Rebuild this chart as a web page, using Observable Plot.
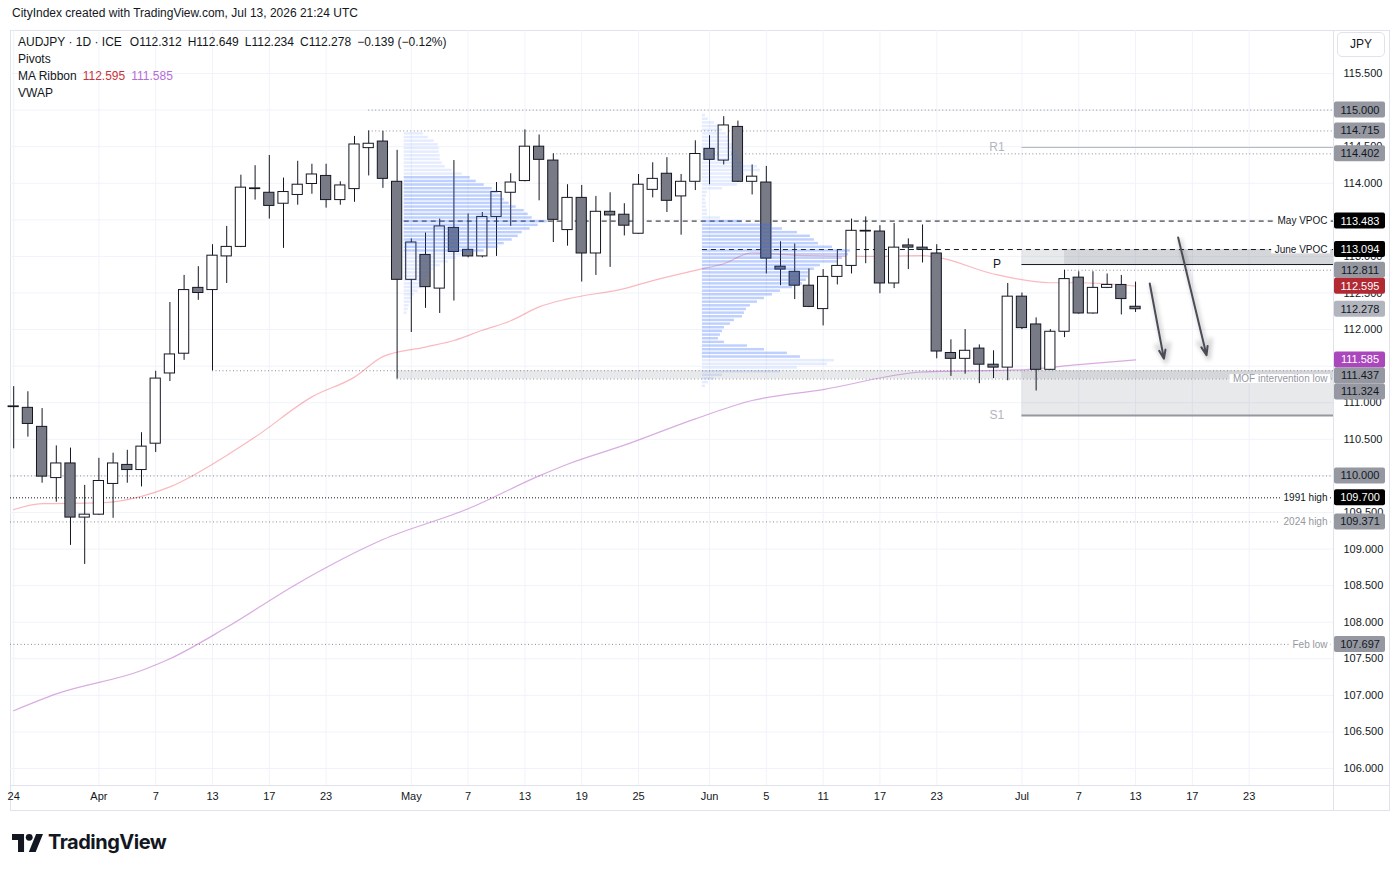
<!DOCTYPE html>
<html lang="en">
<head>
<meta charset="utf-8">
<title>AUDJPY · 1D</title>
<script src="https://cdn.jsdelivr.net/npm/d3@7"></script>
<script src="https://cdn.jsdelivr.net/npm/@observablehq/plot@0.6"></script>
<style>
  html, body { margin: 0; padding: 0; background: #fff; }
  body { width: 1399px; height: 872px; position: relative; overflow: hidden;
         font-family: "Liberation Sans", Arial, sans-serif; color: #131722; }
  #stamp { position: absolute; left: 12px; top: 6px; font-size: 12px; }
  #frame { position: absolute; left: 10px; top: 30px; width: 1380px; height: 781px;
           box-sizing: border-box; border: 1px solid #e0e3eb; }
  #chart { position: absolute; left: 0; top: 30px; }
  #vsep { position: absolute; left: 1333px; top: 30px; width: 1px; height: 781px; background: #e0e3eb; }
  #hsep { position: absolute; left: 10px; top: 785px; width: 1380px; height: 1px; background: #e0e3eb; }
  #legend { position: absolute; left: 18px; top: 34px; font-size: 12px; line-height: 17px; }
  #legend .v { margin-left: 6px; }
  #jpy { position: absolute; left: 1337px; top: 32px; width: 48px; height: 25px; box-sizing: border-box;
         border: 1px solid #e0e3eb; border-radius: 5px; font-size: 12px; text-align: center;
         line-height: 23px; background: #fff; }
  #brand { position: absolute; left: 12px; top: 830px; display: flex; align-items: center; gap: 5px;
           font-family: Inter, sans-serif; font-weight: 700; font-size: 20px; letter-spacing: -0.5px; }
</style>
</head>
<body>
<div id="stamp">CityIndex created with TradingView.com, Jul 13, 2026 21:24 UTC</div>
<div id="frame"></div>
<div id="chart"></div>
<div id="vsep"></div>
<div id="hsep"></div>
<div id="legend"></div>
<div id="jpy">JPY</div>
<div id="brand">
  <svg width="31" height="19" viewBox="0 0 36 22">
    <path d="M14 22H7V8H0V1h14z" fill="#131722"/>
    <circle cx="20" cy="5" r="4" fill="#131722"/>
    <path d="M28 1h8l-8.5 21h-8z" fill="#131722"/>
  </svg>
  <span>TradingView</span>
</div>
<script>
// Trading sessions shown on the time axis (2026, month-day)
const sessions = [
  "03-24","03-25","03-26","03-27","03-30","03-31",
  "04-01","04-02","04-03","04-06","04-07","04-08","04-09","04-10","04-13","04-14","04-15","04-16","04-17",
  "04-20","04-21","04-22","04-23","04-24","04-27","04-28","04-29","04-30",
  "05-01","05-04","05-05","05-06","05-07","05-08","05-11","05-12","05-13","05-14","05-15","05-18","05-19",
  "05-20","05-21","05-22","05-25","05-26","05-27","05-28","05-29",
  "06-01","06-02","06-03","06-04","06-05","06-08","06-09","06-10","06-11","06-12","06-15","06-16","06-17",
  "06-18","06-19","06-22","06-23","06-24","06-25","06-26","06-29","06-30",
  "07-01","07-02","07-03","07-06","07-07","07-08","07-09","07-10","07-13","07-14","07-15","07-16","07-17",
  "07-20","07-21","07-22","07-23","07-24","07-27","07-28","07-29","07-30","07-31"
];

// AUDJPY daily candles: date, open, high, low, close
const candles = [
  ["03-24",110.94,111.22,110.37,110.95],
  ["03-25",110.93,111.15,110.53,110.71],
  ["03-26",110.67,110.92,109.90,109.99],
  ["03-27",109.97,110.41,109.64,110.17],
  ["03-30",110.17,110.38,109.05,109.43],
  ["03-31",109.43,109.87,108.79,109.47],
  ["04-01",109.47,110.24,109.46,109.93],
  ["04-02",109.89,110.31,109.42,110.17],
  ["04-03",110.15,110.35,109.90,110.08],
  ["04-06",110.08,110.59,109.85,110.40],
  ["04-07",110.44,111.43,110.32,111.33],
  ["04-08",111.40,112.37,111.29,111.66],
  ["04-09",111.67,112.74,111.58,112.54],
  ["04-10",112.57,112.86,112.40,112.50],
  ["04-13",112.54,113.16,111.437,113.01],
  ["04-14",113.00,113.41,112.63,113.13],
  ["04-15",113.13,114.11,113.12,113.94],
  ["04-16",113.92,114.24,113.77,113.93],
  ["04-17",113.87,114.38,113.51,113.69],
  ["04-20",113.72,114.07,113.11,113.88],
  ["04-21",113.84,114.30,113.70,113.98],
  ["04-22",113.99,114.26,113.85,114.12],
  ["04-23",114.10,114.26,113.66,113.77],
  ["04-24",113.77,114.02,113.70,113.97],
  ["04-27",113.92,114.64,113.74,114.53],
  ["04-28",114.48,114.715,114.10,114.54],
  ["04-29",114.57,114.71,113.93,114.06],
  ["04-30",114.02,114.45,111.324,112.68],
  ["05-01",112.68,113.24,111.96,113.19],
  ["05-04",113.02,113.32,112.29,112.58],
  ["05-05",112.56,113.51,112.22,113.41],
  ["05-06",113.39,114.31,112.39,113.06],
  ["05-07",113.09,113.58,112.98,113.00],
  ["05-08",113.00,113.60,112.98,113.54],
  ["05-11",113.54,114.01,113.00,113.88],
  ["05-12",113.87,114.13,113.41,114.01],
  ["05-13",114.03,114.73,114.02,114.50],
  ["05-14",114.50,114.66,113.76,114.32],
  ["05-15",114.31,114.402,113.19,113.50],
  ["05-18",113.36,113.98,113.14,113.80],
  ["05-19",113.80,113.97,112.65,113.04],
  ["05-20",113.04,113.82,112.74,113.61],
  ["05-21",113.61,113.87,112.85,113.56],
  ["05-22",113.57,113.72,113.28,113.42],
  ["05-25",113.31,114.12,113.30,113.98],
  ["05-26",113.91,114.28,113.80,114.06],
  ["05-27",114.13,114.35,113.60,113.76],
  ["05-28",113.82,114.12,113.29,114.02],
  ["05-29",114.02,114.58,113.90,114.40],
  ["06-01",114.47,114.65,113.98,114.32],
  ["06-02",114.31,114.91,114.25,114.79],
  ["06-03",114.77,114.85,114.01,114.02],
  ["06-04",114.02,114.25,113.84,114.09],
  ["06-05",114.01,114.23,112.76,112.97],
  ["06-08",112.86,113.20,112.60,112.82],
  ["06-09",112.79,113.17,112.41,112.60],
  ["06-10",112.60,112.83,112.30,112.31],
  ["06-11",112.28,112.82,112.05,112.72],
  ["06-12",112.72,113.09,112.61,112.87],
  ["06-15",112.87,113.51,112.76,113.35],
  ["06-16",113.35,113.54,112.90,113.34],
  ["06-17",113.34,113.42,112.49,112.63],
  ["06-18",112.63,113.45,112.56,113.12],
  ["06-19",113.15,113.24,112.82,113.12],
  ["06-22",113.12,113.43,112.91,113.09],
  ["06-23",113.04,113.16,111.60,111.70],
  ["06-24",111.68,111.86,111.36,111.60],
  ["06-25",111.60,112.00,111.39,111.71],
  ["06-26",111.74,111.79,111.26,111.52],
  ["06-29",111.52,111.71,111.33,111.48],
  ["06-30",111.48,112.63,111.30,112.45],
  ["07-01",112.45,112.50,112.00,112.02],
  ["07-02",112.07,112.16,111.16,111.45],
  ["07-03",111.45,112.00,111.44,111.97],
  ["07-06",111.97,112.811,111.89,112.69],
  ["07-07",112.71,112.79,112.21,112.22],
  ["07-08",112.22,112.79,112.21,112.57],
  ["07-09",112.57,112.76,112.56,112.61],
  ["07-10",112.61,112.74,112.20,112.417],
  ["07-13",112.312,112.649,112.234,112.278]
];

// MA Ribbon: fast (red) and slow (purple) averages, date and value
const maFast = [
  ["03-24",109.54],["03-26",109.62],["04-01",109.63],["04-06",109.72],["04-08",109.85],
  ["04-14",110.28],["04-16",110.53],["04-22",111.08],["04-27",111.35],["04-29",111.63],
  ["05-04",111.76],["05-06",111.85],["05-08",111.99],["05-12",112.12],["05-14",112.31],
  ["05-18",112.42],["05-22",112.56],["05-26",112.67],["05-29",112.81],["06-02",112.90],
  ["06-04",113.05],["06-05",113.04],["06-10",113.01],["06-16",113.00],["06-22",113.01],
  ["06-23",112.99],["06-29",112.76],["07-03",112.64],["07-07",112.64],["07-13",112.595]
];
const maSlow = [
  ["03-24",106.79],["03-27",107.02],["04-06",107.34],["04-08",107.50],["04-14",107.93],
  ["04-21",108.53],["04-29",109.13],["05-07",109.55],["05-14",110.00],["05-18",110.16],
  ["05-22",110.42],["05-29",110.78],["06-04",111.03],["06-11",111.18],["06-22",111.42],
  ["07-01",111.45],["07-07",111.52],["07-13",111.585]
];

// Time axis labels: session and text
const xTicks = [
  ["03-24","24"],["04-01","Apr"],["04-07","7"],["04-13","13"],["04-17","17"],["04-23","23"],
  ["05-01","May"],["05-07","7"],["05-13","13"],["05-19","19"],["05-25","25"],
  ["06-01","Jun"],["06-05","5"],["06-11","11"],["06-17","17"],["06-23","23"],
  ["07-01","Jul"],["07-07","7"],["07-13","13"],["07-17","17"],["07-23","23"]
];
// Price axis ticks
const yTicks = [106.0,106.5,107.0,107.5,108.0,108.5,109.0,109.5,110.0,110.5,111.0,111.5,
                112.0,112.5,113.0,113.5,114.0,114.5,115.0,115.5];

// Horizontal levels: price, first session, kind, note
const keyLevels = [
  [115.000,"04-28","level",""],
  [114.715,"04-28","level",""],
  [114.402,"05-15","level",""],
  [113.483,"05-01","vpoc","May VPOC"],
  [113.094,"06-01","vpoc","June VPOC"],
  [112.811,"07-06","level",""],
  [111.437,"04-13","level",""],
  [111.324,"04-30","level","MOF intervention low"],
  [110.000,"03-24","level",""],
  [109.700,"03-24","major","1991 high"],
  [109.371,"03-24","level","2024 high"],
  [107.697,"03-24","level","Feb low"]
];

// Monthly pivots, drawn from the first July session
const pivotStart = "07-01";
const pivots = [["R1",114.49],["P",112.889],["S1",110.825]];

// Shaded zones: first session, low, high
const zones = [
  ["04-30",111.324,111.437],
  ["07-01",112.889,113.094],
  ["07-06",112.889,113.094],
  ["07-01",110.825,111.437]
];

// Projected moves: from session/price to session/price
const projections = [
  ["07-14",112.63,"07-15",111.60],
  ["07-16",113.26,"07-20",111.65]
];

// Fixed-range volume profiles (row volume, top row first, 0.05 per row)
const profileStep = 0.05;
const mayProfileStart = "05-01", mayProfileTop = 114.70, mayValueArea = [113.05, 114.10];
const mayProfile = [19,24,30,34,35,35,36,36,38,41,48,58,66,72,80,88,94,98,100,105,
  112,120,124,128,143,134,126,118,114,108,100,94,80,62,52,44,36,30,27,24,
  22,20,18,14,10,8,6,5,4,3];
const juneProfileStart = "06-01", juneProfileTop = 114.95, juneValueArea = [111.60, 113.50];
const juneProfile = [3,6,12,16,20,24,27,28,30,32,34,35,36,40,55,58,42,38,30,35,
  20,5,4,3,4,4,5,5,18,40,70,80,95,108,112,116,130,148,146,140,
  135,118,112,106,106,104,100,90,78,70,62,55,48,44,42,40,32,28,22,20,
  18,16,22,45,62,85,98,132,125,95,78,20,12,6,3];
const volumePerSession = 14.2;

// ---- layout of the price pane
const pos = new Map(sessions.map((d, i) => [d, i]));
const X0 = -0.225, X1 = 92.94;
const Y0 = 105.768, Y1 = 116.088;
const frameLeft = 10, frameRight = 1333, frameHeight = 755;
const xAt = px => X0 + (px - frameLeft) / (frameRight - frameLeft) * (X1 - X0);
const pxOfY = p => (Y1 - p) / (Y1 - Y0) * frameHeight;
const yAtPx = px => Y1 - px / frameHeight * (Y1 - Y0);
const bodyHalf = 0.36;
const font = "'Liberation Sans', Arial, sans-serif";

const bars = candles.map(([d, o, h, l, c]) => ({i: pos.get(d), o, h, l, c, up: c >= o}));

function profileRows(start, top, vols, [val, vah]) {
  const x1 = pos.get(start) - 0.5;
  return vols.map((v, k) => {
    const hi = top - k * profileStep, lo = hi - profileStep;
    return {x1, x2: x1 + v / volumePerSession, y1: lo, y2: hi,
            inVA: hi <= vah + 1e-9 && lo >= val - 1e-9};
  });
}
const profiles = [
  ...profileRows(mayProfileStart, mayProfileTop, mayProfile, mayValueArea),
  ...profileRows(juneProfileStart, juneProfileTop, juneProfile, juneValueArea)
];

// Price tags on the right scale, stacked so they never overlap
const last = candles[candles.length - 1];
const tagH = 16;
const tags = [
  ...keyLevels.map(([p, , kind]) => ({price: p, kind: kind === "level" ? "level" : "key"})),
  {price: maFast[maFast.length - 1][1], kind: "fast"},
  {price: maSlow[maSlow.length - 1][1], kind: "slow"},
  {price: last[4], kind: "last"}
].sort((a, b) => b.price - a.price);
let prevCy = -Infinity;
for (const t of tags) {
  t.cy = Math.max(pxOfY(t.price), prevCy + tagH);
  prevCy = t.cy;
}
const tagFill = {level: "#9598a1", key: "#000000", fast: "#b22833", slow: "#ab47bc", last: "#b2b5be"};
const tagText = {level: "#131722", key: "#ffffff", fast: "#ffffff", slow: "#ffffff", last: "#131722"};
// scale ticks whose label is fully covered by tags are not drawn
const covered = py => tags.some(g => Math.abs(py - g.cy) <= tagH / 2);
const shownTicks = yTicks.filter(t => {
  const py = pxOfY(t);
  return !(covered(py - 4) && covered(py) && covered(py + 4));
});

// level notes sit in a gap cut into their line
const noteSize = 10, noteRight = 1327;
const ctx = document.createElement("canvas").getContext("2d");
ctx.font = `${noteSize}px ${font}`;
const notes = keyLevels.filter(d => d[3]).map(d => ({
  price: d[0], text: d[3], dark: d[2] !== "level", w: ctx.measureText(d[3]).width
}));

const startOf = (d, kind) => d === "03-24" ? X0 : pos.get(d) - (kind === "vpoc" ? 0.5 : 0);
const levelRule = (filter, stroke, dash) => Plot.ruleY(keyLevels.filter(filter), {
  y: d => d[0], x1: d => startOf(d[1], d[2]), x2: () => X1, stroke, strokeWidth: 1, strokeDasharray: dash
});

const chart = Plot.plot({
  width: 1399, height: 780,
  marginLeft: 10, marginRight: 66, marginTop: 0, marginBottom: 25,
  style: {fontFamily: font, background: "transparent", overflow: "visible", color: "#131722"},
  x: {type: "linear", domain: [X0, X1], axis: null},
  y: {type: "linear", domain: [Y0, Y1], axis: null},
  marks: [
    // grid
    Plot.ruleY(yTicks, {stroke: "#f0f3fa"}),
    Plot.ruleX(xTicks, {x: d => pos.get(d[0]), stroke: "#f0f3fa"}),
    // zones
    Plot.rect(zones, {x1: d => pos.get(d[0]), x2: () => X1, y1: d => d[1], y2: d => d[2],
                      fill: "#787b86", fillOpacity: 0.17}),
    // levels
    levelRule(d => d[2] === "level", "#8a8d96", "1,2.5"),
    levelRule(d => d[2] === "major", "#131722", "1,2"),
    levelRule(d => d[2] === "vpoc", "#131722", "5,4"),
    // pivots
    Plot.ruleY(pivots.filter(d => d[0] === "R1"), {y: d => d[1], x1: () => pos.get(pivotStart), x2: () => X1, stroke: "#b2b5be"}),
    Plot.ruleY(pivots.filter(d => d[0] === "P"), {y: d => d[1], x1: () => pos.get(pivotStart), x2: () => X1, stroke: "#131722"}),
    Plot.ruleY(pivots.filter(d => d[0] === "S1"), {y: d => d[1], x1: () => pos.get(pivotStart), x2: () => X1, stroke: "#9598a1", strokeWidth: 2}),
    Plot.text(pivots, {x: () => pos.get(pivotStart), y: d => d[1], text: d => d[0], dx: -25, fontSize: 12,
                       fill: d => d[0] === "P" ? "#131722" : "#b2b5be"}),
    // moving averages
    Plot.line(maSlow, {x: d => pos.get(d[0]), y: d => d[1], stroke: "#ba68c8", strokeOpacity: 0.55, strokeWidth: 1.2, curve: "monotone-x"}),
    Plot.line(maFast, {x: d => pos.get(d[0]), y: d => d[1], stroke: "#f23645", strokeOpacity: 0.35, strokeWidth: 1.2, curve: "monotone-x"}),
    // candles
    Plot.ruleX(bars, {x: "i", y1: "l", y2: "h", stroke: "#131722"}),
    Plot.rect(bars, {x1: d => d.i - bodyHalf, x2: d => d.i + bodyHalf,
                     y1: d => Math.min(d.o, d.c), y2: d => Math.max(d.o, d.c),
                     fill: d => d.up ? "#ffffff" : "#787b86", stroke: "#131722", strokeWidth: 1}),
    // volume profiles
    Plot.rect(profiles.filter(r => !r.inVA), {x1: "x1", x2: "x2", y1: "y1", y2: "y2", fill: "#2962ff", fillOpacity: 0.12, insetTop: 0.6, insetBottom: 0.6}),
    Plot.rect(profiles.filter(r => r.inVA), {x1: "x1", x2: "x2", y1: "y1", y2: "y2", fill: "#2962ff", fillOpacity: 0.3, insetTop: 0.6, insetBottom: 0.6}),
    // projected moves (soft shadow first)
    Plot.arrow(projections, {x1: d => pos.get(d[0]), y1: d => d[1], x2: d => pos.get(d[2]), y2: d => d[3],
                             stroke: "#000", strokeOpacity: 0.18, strokeWidth: 4, dx: 2, dy: 3, headLength: 7, headAngle: 40}),
    Plot.arrow(projections, {x1: d => pos.get(d[0]), y1: d => d[1], x2: d => pos.get(d[2]), y2: d => d[3],
                             stroke: "#4a4d57", strokeWidth: 2, headLength: 7, headAngle: 40}),
    // level notes
    Plot.rect(notes, {x1: d => xAt(noteRight - d.w - 3), x2: () => xAt(noteRight + 3),
                      y1: d => d.price - 0.06, y2: d => d.price + 0.06, fill: "#ffffff"}),
    Plot.text(notes.filter(d => d.dark), {x: () => xAt(noteRight), y: "price", text: "text",
              textAnchor: "end", fontSize: noteSize, fill: "#131722"}),
    Plot.text(notes.filter(d => !d.dark), {x: () => xAt(noteRight), y: "price", text: "text",
              textAnchor: "end", fontSize: noteSize, fill: "#9598a1"}),
    // axes
    Plot.text(shownTicks, {y: d => d, text: d => d.toFixed(3), frameAnchor: "right", dx: 10, textAnchor: "start",
                       fontSize: 11, fill: "#131722"}),
    Plot.text(xTicks, {x: d => pos.get(d[0]), text: d => d[1], frameAnchor: "bottom", dy: 14,
                       fontSize: 11, fill: "#131722"}),
    // price tags
    Plot.rect(tags, {x1: () => xAt(1334), x2: () => xAt(1385), y1: d => yAtPx(d.cy + tagH / 2), y2: d => yAtPx(d.cy - tagH / 2),
                     fill: d => tagFill[d.kind], rx: 2}),
    ...Object.keys(tagText).map(k => Plot.text(tags.filter(t => t.kind === k), {
      x: () => xAt(1359.5), y: d => yAtPx(d.cy), text: d => d.price.toFixed(3), fontSize: 11, fill: tagText[k]
    }))
  ]
});
document.getElementById("chart").appendChild(chart);
// blur the arrow shadow
const arrowGroups = chart.querySelectorAll('g[aria-label="arrow"]');
if (arrowGroups.length) arrowGroups[0].style.filter = "blur(2px)";

// Legend header
const prevClose = candles[candles.length - 2][4];
const chg = last[4] - prevClose;
const sign = v => v < 0 ? "\u2212" : "+";
document.getElementById("legend").innerHTML =
  `<div>AUDJPY · 1D · ICE<span class="v" style="margin-left:8px">O${last[1].toFixed(3)}</span>` +
  `<span class="v">H${last[2].toFixed(3)}</span><span class="v">L${last[3].toFixed(3)}</span>` +
  `<span class="v">C${last[4].toFixed(3)}</span>` +
  `<span class="v">${sign(chg)}${Math.abs(chg).toFixed(3)} (${sign(chg)}${Math.abs(chg / prevClose * 100).toFixed(2)}%)</span></div>` +
  `<div>Pivots</div>` +
  `<div>MA Ribbon<span class="v" style="color:#c8323c">${maFast[maFast.length - 1][1].toFixed(3)}</span>` +
  `<span class="v" style="color:#b46cd8">${maSlow[maSlow.length - 1][1].toFixed(3)}</span></div>` +
  `<div>VWAP</div>`;
</script>
</body>
</html>
